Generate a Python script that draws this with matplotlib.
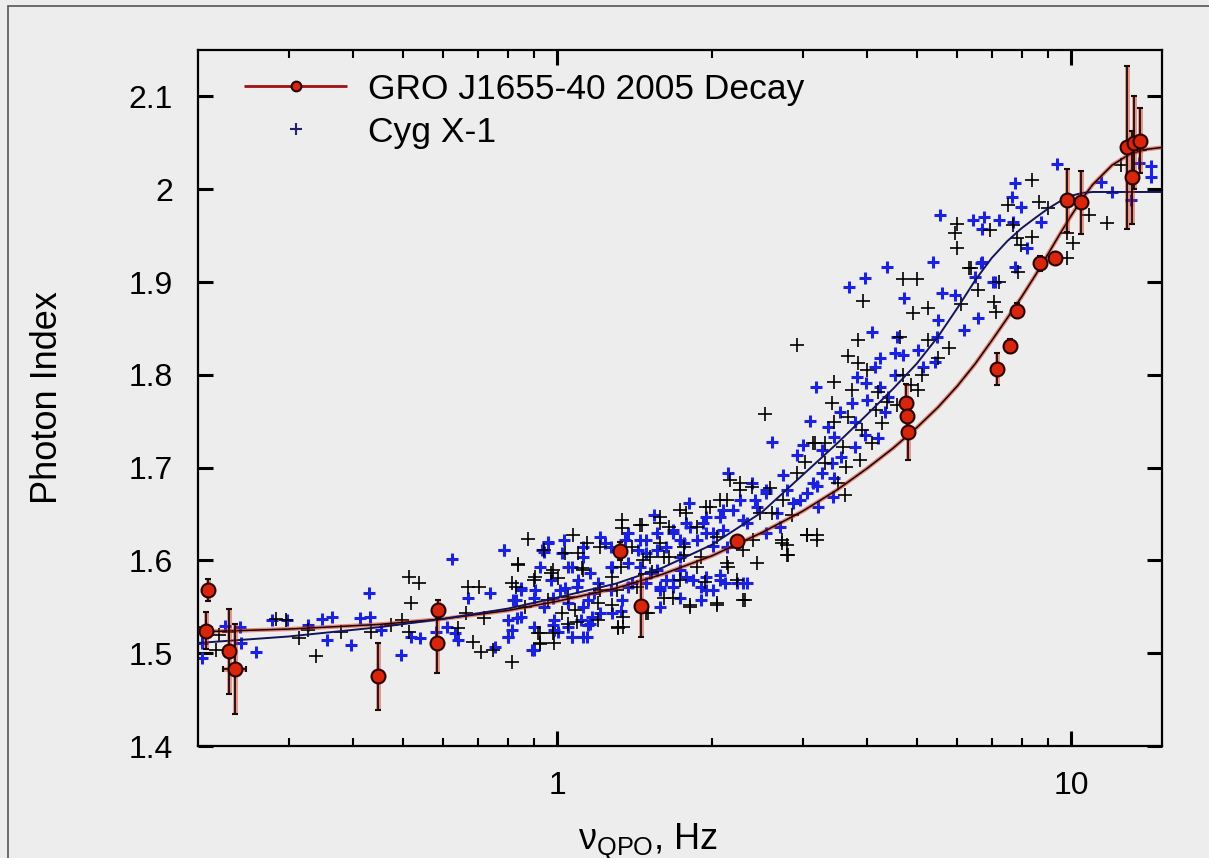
"""Photon index vs. QPO frequency: GRO J1655-40 (2005 decay) against Cyg X-1."""
import matplotlib
matplotlib.use("Agg")
import matplotlib.pyplot as plt
from matplotlib.container import ErrorbarContainer
from matplotlib.legend_handler import HandlerErrorbar
from matplotlib.lines import Line2D
from matplotlib.patches import Rectangle
from matplotlib.ticker import FixedLocator, NullFormatter, FixedFormatter

plt.rcParams["font.family"] = ["Liberation Sans", "DejaVu Sans"]
plt.rcParams["mathtext.fontset"] = "custom"
plt.rcParams["mathtext.rm"] = "Liberation Sans"

# --- GRO J1655-40, 2005 decay (QPO freq in Hz, photon index, errors)
gro_nu = [0.207, 0.209, 0.230, 0.236, 0.447, 0.585, 0.583, 1.325, 1.456, 2.24,
          4.76, 4.78, 4.80, 7.18, 7.61, 7.82, 8.67, 9.27, 9.82, 10.45,
          12.8, 13.25, 13.1, 13.6]
gro_gamma = [1.524, 1.568, 1.502, 1.483, 1.475, 1.547, 1.511, 1.610, 1.551, 1.621,
             1.770, 1.756, 1.738, 1.806, 1.831, 1.869, 1.920, 1.926, 1.988, 1.986,
             2.045, 2.050, 2.013, 2.052]
gro_err = [0.020, 0.012, 0.046, 0.049, 0.036, 0.010, 0.032, 0.010, 0.034, 0.005,
           0.020, 0.012, 0.030, 0.017, 0.008, 0.008, 0.008, 0.006, 0.034, 0.034,
           0.088, 0.050, 0.050, 0.035]
gro_xerr = [0, 0, 0, 0.012, 0, 0, 0, 0, 0, 0,
            0, 0, 0, 0, 0, 0, 0, 0, 0, 0,
            0, 0, 0, 0]

# --- Cyg X-1, two groups of observations (blue / black crosses)
cyg_blue_nu = [
    0.226, 0.241, 0.204, 0.243, 0.259, 0.279, 0.298, 0.328, 0.348, 0.364,
    0.356, 0.396, 0.414, 0.433, 0.43, 0.453, 0.496, 0.52, 0.54, 0.204,
    0.625, 0.789, 0.957, 0.935, 0.669, 0.741, 0.83, 0.848, 0.927, 0.906,
    1.02, 1.07, 1.036, 0.98, 1.098, 1.149, 1.201, 1.239, 1.279, 1.355,
    1.436, 1.398, 1.337, 1.17, 1.279, 0.836, 0.818, 0.80, 0.894, 1.005,
    1.07, 1.12, 0.98, 1.149, 0.758, 0.61, 0.632, 0.58, 0.64,
    3.1, 2.62, 3.0, 2.93, 2.15, 2.39, 2.75, 2.55, 1.80, 1.54,
    1.95, 2.10, 2.27, 2.42, 1.68, 1.81, 1.95, 2.10, 2.30, 1.49,
    1.56, 1.76, 2.01, 1.515, 1.73, 1.84, 2.07, 2.12, 1.95, 2.30,
    1.585, 1.68, 2.55, 2.71, 2.87, 3.06, 3.14,
    4.37, 3.96, 3.70, 5.37, 6.69, 4.73, 5.59, 5.93, 7.10, 6.57,
    6.19, 5.50, 4.10, 4.57, 5.47, 4.53, 4.70, 4.24, 5.02, 5.42,
    5.15, 4.14, 3.82, 3.99, 4.53, 4.24, 4.39, 3.74, 4.01, 4.33,
    3.54, 3.36, 3.79, 3.96, 4.2, 3.46, 3.27, 3.57, 3.79, 3.42,
    3.27, 3.46, 3.21, 3.19,
    9.39, 7.75, 7.65, 7.99, 6.43, 6.77, 7.24, 6.71, 7.69, 8.74,
    8.18, 7.75, 6.68, 6.48, 7.03, 11.43, 12.0, 13.55, 14.3, 14.3,
    13.07, 5.54,
    1.21, 1.27, 1.37, 1.45, 1.49, 1.56, 1.63, 1.68, 1.73, 1.78,
    1.87, 1.92, 2.01, 2.07, 2.14, 2.2, 2.34, 2.45, 2.55, 2.67,
    2.80, 2.96, 3.2, 3.43, 1.12, 1.16, 1.27, 1.37, 1.45, 1.56,
    1.68, 1.78, 1.90, 1.95, 1.05, 0.97, 1.01, 1.09, 1.18, 1.27,
    1.37, 1.49, 1.585, 1.63, 1.73, 1.90, 2.01, 2.07, 2.24, 2.34,
    0.90, 0.85, 0.82, 0.94, 1.05, 1.12, 1.21, 1.33, 1.585, 0.80,
    0.85, 0.90, 0.984, 1.05, 1.11, 1.16, 0.80, 0.90, 0.984, 1.07,
    1.14, 0.957, 0.786, 0.94, 1.03, 1.12, 1.73,
]
cyg_blue_gamma = [
    1.529, 1.528, 1.495, 1.511, 1.501, 1.536, 1.536, 1.530, 1.537, 1.539,
    1.514, 1.509, 1.538, 1.539, 1.565, 1.525, 1.498, 1.517, 1.516, 1.511,
    1.601, 1.611, 1.620, 1.611, 1.559, 1.565, 1.557, 1.570, 1.593, 1.568,
    1.608, 1.593, 1.570, 1.559, 1.579, 1.557, 1.576, 1.619, 1.593, 1.622,
    1.611, 1.576, 1.557, 1.539, 1.543, 1.538, 1.525, 1.517, 1.503, 1.523,
    1.517, 1.517, 1.530, 1.530, 1.507, 1.528, 1.522, 1.523, 1.514,
    1.750, 1.728, 1.724, 1.714, 1.694, 1.683, 1.692, 1.676, 1.662, 1.649,
    1.647, 1.654, 1.665, 1.665, 1.630, 1.636, 1.630, 1.633, 1.644, 1.622,
    1.611, 1.619, 1.615, 1.586, 1.590, 1.579, 1.584, 1.576, 1.568, 1.576,
    1.571, 1.571, 1.630, 1.636, 1.662, 1.673, 1.683,
    1.916, 1.904, 1.895, 1.922, 1.922, 1.883, 1.888, 1.886, 1.900, 1.861,
    1.848, 1.859, 1.846, 1.841, 1.841, 1.823, 1.821, 1.818, 1.827, 1.814,
    1.808, 1.808, 1.798, 1.791, 1.800, 1.787, 1.776, 1.770, 1.773, 1.760,
    1.760, 1.744, 1.749, 1.735, 1.732, 1.733, 1.719, 1.711, 1.722, 1.705,
    1.694, 1.689, 1.658, 1.787,
    2.027, 2.007, 1.992, 1.981, 1.967, 1.970, 1.967, 1.957, 1.965, 1.965,
    1.937, 1.916, 1.920, 1.905, 1.900, 2.008, 1.997, 2.028, 2.025, 2.013,
    1.988, 1.972,
    1.625, 1.614, 1.630, 1.622, 1.608, 1.630, 1.614, 1.633, 1.604, 1.640,
    1.622, 1.640, 1.630, 1.647, 1.614, 1.654, 1.640, 1.658, 1.673, 1.651,
    1.676, 1.665, 1.680, 1.668, 1.604, 1.586, 1.593, 1.597, 1.593, 1.590,
    1.579, 1.582, 1.571, 1.582, 1.593, 1.579, 1.568, 1.571, 1.565, 1.568,
    1.571, 1.576, 1.568, 1.579, 1.560, 1.557, 1.568, 1.579, 1.576, 1.576,
    1.560, 1.568, 1.557, 1.550, 1.554, 1.550, 1.543, 1.546, 1.550, 1.536,
    1.539, 1.528, 1.536, 1.528, 1.536, 1.532, 1.517, 1.503, 1.525, 1.517,
    1.517, 1.619, 1.611, 1.609, 1.622, 1.614, 1.622,
]

cyg_black_nu = [
    0.217, 0.230, 0.22, 0.284, 0.296, 0.314, 0.328, 0.34, 0.38, 0.435,
    0.474, 0.498, 0.514, 0.537, 0.52, 0.514, 0.207,
    0.878, 0.84, 0.669, 0.703, 0.72, 0.664, 0.64, 0.684, 0.71, 0.748,
    0.818, 0.918, 0.927, 0.982, 0.818, 0.98, 1.036, 1.074, 1.098, 1.118,
    1.143, 1.337, 1.337, 1.449, 1.005, 1.05, 1.2, 1.279, 1.084, 1.02,
    1.2, 1.313, 1.343, 1.093, 0.866, 0.957, 0.906, 1.279, 1.307,
    2.53, 3.14, 3.03, 3.06, 3.2, 2.80, 2.81, 2.74, 2.45, 2.30,
    2.32, 2.04, 1.81, 1.68, 1.61, 1.50, 2.24, 2.15, 1.94, 1.87,
    1.76, 1.65, 1.585, 1.515, 1.65, 1.73, 1.87, 1.98, 2.14, 2.27,
    2.39, 2.17, 2.59, 2.48, 2.75, 2.93, 2.62, 2.86, 1.585, 1.46,
    5.98, 5.93, 4.70, 5.0, 3.93, 5.25, 4.91, 6.11, 6.57, 7.08,
    7.14, 6.39, 3.84, 4.63, 5.25, 3.67, 3.84, 5.79, 5.50, 3.46,
    4.01, 4.70, 4.88, 5.11, 5.02, 3.74, 4.2, 3.42, 3.67, 4.17,
    4.37, 4.57, 3.46, 3.91, 4.28, 4.10, 3.31, 3.59, 3.87, 3.31,
    3.65, 3.51, 3.62, 3.17,
    8.37, 7.52, 8.66, 8.99, 7.69, 6.93, 7.82, 8.37, 7.99, 9.8,
    10.07, 10.8, 11.7, 6.33, 7.86, 7.24, 9.8, 12.5, 13.6, 2.93,
    6.0,
    0.84, 0.94, 1.12, 1.33, 1.47, 1.53, 1.61, 1.76, 1.90, 2.04,
    2.14, 2.07, 2.27, 2.40, 2.74, 2.80, 3.06, 3.2, 2.30, 2.04,
    1.81, 1.49, 1.34, 1.31, 1.05, 0.927, 0.984, 0.927, 0.83, 0.90,
    0.97, 1.21, 1.43, 1.73, 1.21, 1.40, 1.585, 1.78, 1.95,
]
cyg_black_gamma = [
    1.503, 1.523, 1.520, 1.537, 1.536, 1.516, 1.525, 1.497, 1.523, 1.523,
    1.530, 1.536, 1.582, 1.576, 1.554, 1.523, 1.528,
    1.623, 1.596, 1.571, 1.571, 1.538, 1.543, 1.527, 1.512, 1.501, 1.503,
    1.491, 1.522, 1.510, 1.522, 1.576, 1.590, 1.608, 1.627, 1.608, 1.592,
    1.619, 1.644, 1.635, 1.638, 1.581, 1.561, 1.554, 1.552, 1.547, 1.543,
    1.536, 1.527, 1.539, 1.534, 1.550, 1.557, 1.582, 1.582, 1.568,
    1.758, 1.727, 1.706, 1.627, 1.627, 1.617, 1.606, 1.619, 1.597, 1.611,
    1.557, 1.554, 1.550, 1.559, 1.559, 1.543, 1.579, 1.593, 1.577, 1.593,
    1.606, 1.604, 1.619, 1.604, 1.636, 1.654, 1.636, 1.658, 1.665, 1.683,
    1.679, 1.687, 1.678, 1.651, 1.665, 1.694, 1.651, 1.649, 1.647, 1.638,
    1.937, 1.953, 1.903, 1.903, 1.880, 1.872, 1.867, 1.876, 1.891, 1.878,
    1.868, 1.915, 1.838, 1.841, 1.838, 1.820, 1.813, 1.829, 1.818, 1.792,
    1.805, 1.800, 1.789, 1.800, 1.784, 1.784, 1.782, 1.770, 1.755, 1.762,
    1.771, 1.767, 1.749, 1.741, 1.748, 1.727, 1.727, 1.722, 1.708, 1.705,
    1.701, 1.683, 1.670, 1.727,
    2.010, 1.983, 1.986, 1.980, 1.961, 1.956, 1.947, 1.948, 1.940, 1.953,
    1.942, 1.972, 1.964, 1.915, 1.911, 1.900, 1.926, 2.026, 2.042, 1.832,
    1.962,
    1.595, 1.611, 1.590, 1.593, 1.600, 1.588, 1.604, 1.614, 1.604, 1.625,
    1.597, 1.665, 1.676, 1.622, 1.622, 1.606, 1.627, 1.622, 1.557, 1.552,
    1.552, 1.543, 1.528, 1.528, 1.532, 1.522, 1.511, 1.511, 1.571, 1.579,
    1.586, 1.568, 1.571, 1.579, 1.614, 1.614, 1.640, 1.651, 1.658,
]

# --- fitted scaling curves, sampled along the drawn lines
fit_cyg_nu = [0.2, 0.3, 0.45, 0.6, 0.8, 1.0, 1.3, 1.6, 2.0, 2.5, 3.0, 3.5, 4.0,
              4.5, 5.0, 5.5, 6.0, 6.5, 7.0, 7.5, 8.0, 8.5, 9.0, 9.5, 10.0,
              10.5, 11.0, 15.0]
fit_cyg_gamma = [1.511, 1.518, 1.528, 1.537, 1.548, 1.560, 1.575, 1.592, 1.617,
                 1.652, 1.692, 1.726, 1.757, 1.785, 1.812, 1.841, 1.872, 1.902,
                 1.926, 1.944, 1.958, 1.969, 1.979, 1.987, 1.993, 1.996, 1.997,
                 1.997]
fit_gro_nu = [0.2, 0.3, 0.45, 0.6, 0.8, 1.0, 1.3, 1.6, 2.0, 2.5, 3.0, 3.5, 4.0,
              4.5, 5.0, 5.5, 6.0, 6.5, 7.0, 7.5, 8.0, 8.5, 9.0, 9.5, 10.0, 10.5,
              11.0, 12.0, 13.0, 14.0, 15.0]
fit_gro_gamma = [1.523, 1.526, 1.531, 1.537, 1.546, 1.556, 1.570, 1.585, 1.605,
                 1.630, 1.653, 1.676, 1.699, 1.721, 1.743, 1.765, 1.788, 1.812,
                 1.837, 1.861, 1.884, 1.907, 1.930, 1.952, 1.972, 1.990, 2.005,
                 2.026, 2.038, 2.043, 2.045]

BG = "#ededed"
BLUE = "#1a22e0"
RED = "#d8260c"

fig = plt.figure(figsize=(12.09, 8.58), dpi=100, facecolor=BG)
ax = fig.add_axes([198 / 1209, 1 - 746 / 858, 964 / 1209, 696 / 858])
ax.set_facecolor(BG)

# Cyg X-1 crosses
ax.plot(cyg_blue_nu, cyg_blue_gamma, "+", color=BLUE, ms=9, mew=2.2, zorder=2)
ax.plot(cyg_black_nu, cyg_black_gamma, "+", color="black", ms=10, mew=1.2, zorder=3)

# fits: red glow under a thin black line / dark blue line
ax.plot(fit_gro_nu, fit_gro_gamma, "-", color=RED, lw=3.0, alpha=0.5, zorder=4)
ax.plot(fit_gro_nu, fit_gro_gamma, "-", color="#1a0000", lw=1.1, zorder=5)
ax.plot(fit_cyg_nu, fit_cyg_gamma, "-", color="#14145a", lw=1.4, zorder=5)

# GRO J1655-40 points with error bars
ax.errorbar(gro_nu, gro_gamma, yerr=gro_err, xerr=gro_xerr, fmt="none",
            ecolor=RED, elinewidth=3.5, alpha=0.45, zorder=6)
ax.errorbar(gro_nu, gro_gamma, yerr=gro_err, xerr=gro_xerr, fmt="o",
            ms=10, mfc=RED, mec="#2a0000", mew=1.5, ecolor="#1a0a0a",
            elinewidth=1.3, capsize=2, capthick=1.3, zorder=7)

ax.set_xscale("log")
ax.set_xlim(0.2, 15)
ax.set_ylim(1.4, 2.15)

ax.xaxis.set_major_locator(FixedLocator([1, 10]))
ax.xaxis.set_major_formatter(FixedFormatter(["1", "10"]))
ax.xaxis.set_minor_locator(FixedLocator([0.3, 0.4, 0.5, 0.6, 0.7, 0.8, 0.9,
                                         2, 3, 4, 5, 6, 7, 8, 9]))
ax.xaxis.set_minor_formatter(NullFormatter())
ax.set_yticks([1.4, 1.5, 1.6, 1.7, 1.8, 1.9, 2.0, 2.1])
ax.set_yticklabels(["1.4", "1.5", "1.6", "1.7", "1.8", "1.9", "2", "2.1"])

ax.tick_params(which="both", direction="in", top=True, right=True,
               labelsize=23, pad=18)
ax.tick_params(which="major", length=11, width=2.2)
ax.tick_params(which="minor", length=6, width=1.5)
for s in ax.spines.values():
    s.set_linewidth(1.6)

ax.set_ylabel("Photon Index", fontsize=26)
ax.yaxis.set_label_coords(-0.138, 0.5)
fig.text(648 / 1209, 1 - 850 / 858, r"$\mathregular{\nu_{QPO}}$, Hz",
         fontsize=26, ha="center", va="baseline")

# legend
gro_handle = ax.errorbar([], [], xerr=[], fmt="o", ms=7, mfc=RED, mec="#2a0000",
                         mew=1.5, ecolor="#a01010", elinewidth=2, capsize=6,
                         capthick=1.5)
cyg_handle = Line2D([], [], ls="none", marker="+", color="#22226a", ms=9, mew=1.5)
ax.legend([gro_handle, cyg_handle], ["GRO J1655-40 2005 Decay", "Cyg X-1"],
          handler_map={ErrorbarContainer: HandlerErrorbar(xerr_size=1.45)},
          loc="upper left", bbox_to_anchor=(0.0195, 1.008), frameon=False,
          fontsize=25.5, handlelength=2.85, handletextpad=0.62, labelspacing=0.28,
          borderaxespad=0.4)

# outer frame of the figure
fig.patches.append(Rectangle((8 / 1209, -0.01), 1.1, 1 - 6 / 858 + 0.01,
                             transform=fig.transFigure, fill=False,
                             edgecolor="#555555", lw=1.2))

fig.savefig("out.png", dpi=100, facecolor=BG)
